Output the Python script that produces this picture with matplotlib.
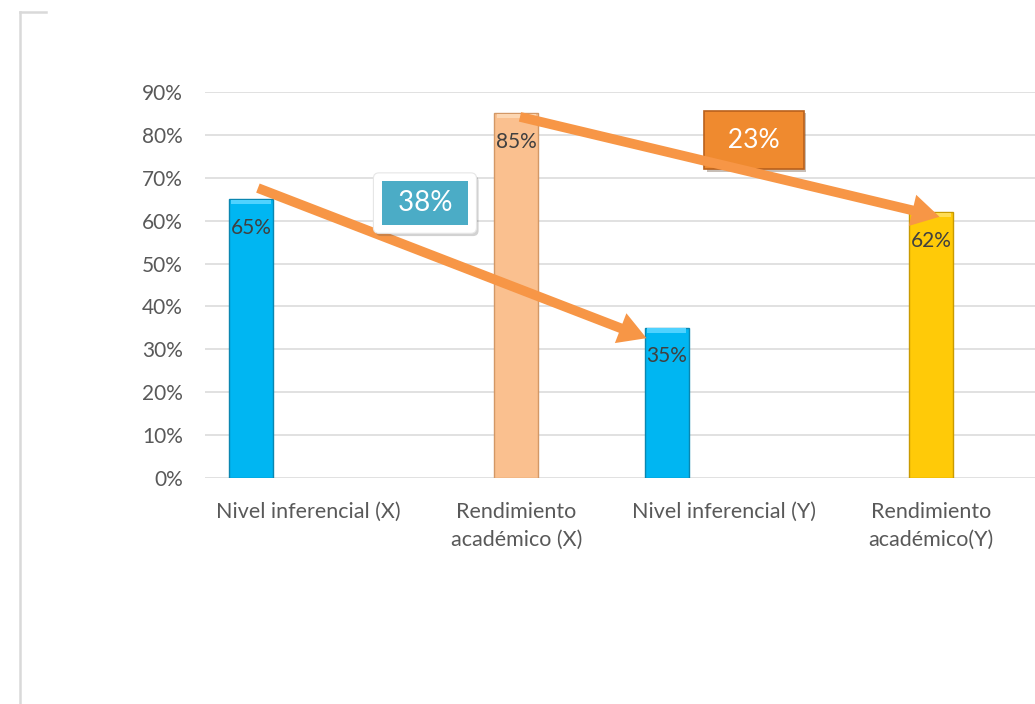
import matplotlib.pyplot as plt
import matplotlib.patheffects as pe
from matplotlib.lines import Line2D

plt.rcParams['font.family'] = ['Lato', 'DejaVu Sans']

# data
categorias = ['Nivel inferencial (X)', 'Rendimiento\nacadémico (X)',
              'Nivel inferencial (Y)', 'Rendimiento\nacadémico(Y)']
valores = [0.65, 0.85, 0.35, 0.62]
etiquetas = ['65%', '85%', '35%', '62%']
diferencias = ['38%', '23%']
yticks = [0, 0.1, 0.2, 0.3, 0.4, 0.5, 0.6, 0.7, 0.8, 0.9]

colores = ['#00B6F2', '#FAC08F', '#00B6F2', '#FFCA08']
claros = ['#4FD2FF', '#FCD6B2', '#4FD2FF', '#FFDD55']
bordes = ['#0A86B0', '#D39866', '#0A86B0', '#C99A00']
desplaz = [-0.278, 0.0, -0.275, 0.0]
naranja = '#F79646'

fig = plt.figure(figsize=(10.35, 7.04), dpi=100)
ax = fig.add_axes([205/1035, 1 - 478/704, 830/1035, 386/704])

xs = [i + d for i, d in enumerate(desplaz)]
ax.bar(xs, valores, width=0.212, color=colores, edgecolor=bordes,
       linewidth=1.0, zorder=2)
# brillo superior del bisel
ax.bar(xs, [0.01] * 4, bottom=[v - 0.011 for v in valores], width=0.19,
       color=claros, linewidth=0, zorder=2.5)

for x, v, t in zip(xs, valores, etiquetas):
    ax.annotate(t, (x, v), xytext=(0, -20.5), textcoords='offset points',
                ha='center', va='center', fontsize=15, color='#404040', zorder=4)

ax.set_xlim(-0.5, 3.5)
ax.set_ylim(0, 0.9)
ax.set_yticks(yticks)
ax.set_yticklabels([f'{int(round(t*100))}%' for t in yticks])
ax.set_xticks(range(4))
ax.set_xticklabels(categorias, linespacing=1.5)
ax.tick_params(axis='y', length=0, labelsize=15, labelcolor='#595959', pad=16)
ax.tick_params(axis='x', length=0, labelsize=15.5, labelcolor='#595959', pad=17)
ax.grid(axis='y', color='#D9D9D9', linewidth=1.1, zorder=0)
ax.set_axisbelow(True)
for s in ax.spines.values():
    s.set_visible(False)

# caja 38%
caja1 = ax.text(0.56, 0.641, ' ' + diferencias[0] + ' ', ha='center', va='center',
                fontsize=20, color='white', zorder=6,
                bbox=dict(boxstyle='round,pad=0.62,rounding_size=0.2', fc='white',
                          ec='#E6E6E6', lw=0.8))
caja1.get_bbox_patch().set_path_effects(
    [pe.SimplePatchShadow(offset=(1.5, -2), alpha=0.25), pe.Normal()])
ax.text(0.56, 0.641, ' ' + diferencias[0] + ' ', ha='center', va='center',
        fontsize=20, color='white', zorder=7,
        bbox=dict(boxstyle='square,pad=0.32', fc='#4BACC6', ec='none'))

# caja 23%
caja2 = ax.text(2.146, 0.788, ' ' + diferencias[1] + ' ', ha='center', va='center',
                fontsize=19, color='white', zorder=5,
                bbox=dict(boxstyle='square,pad=0.64', fc='#EF8A2F', ec='#B9611C', lw=1.2))
caja2.get_bbox_patch().set_path_effects(
    [pe.SimplePatchShadow(offset=(1.5, -1.5), alpha=0.3), pe.Normal()])

# flechas
estilo = 'simple,head_length=20,head_width=23,tail_width=7'
ax.annotate('', xy=(xs[2] - 0.097, valores[2] - 0.024),
            xytext=(xs[0] + 0.033, valores[0] + 0.026),
            arrowprops=dict(arrowstyle=estilo, mutation_scale=1, fc=naranja,
                            ec='none', shrinkA=0, shrinkB=0), zorder=5)
ax.annotate('', xy=(xs[3] + 0.04, valores[3] - 0.011),
            xytext=(xs[1] + 0.018, valores[1] - 0.008),
            arrowprops=dict(arrowstyle=estilo, mutation_scale=1, fc=naranja,
                            ec='none', shrinkA=0, shrinkB=0), zorder=6)

# marco
fig.add_artist(Line2D([20/1035, 20/1035], [0, 1 - 12/704], color='#D9D9D9',
                      linewidth=1.8, transform=fig.transFigure))
fig.add_artist(Line2D([20/1035, 46/1035], [1 - 12/704, 1 - 12/704], color='#D9D9D9',
                      linewidth=1.8, transform=fig.transFigure))

fig.savefig('out.png', dpi=100)
